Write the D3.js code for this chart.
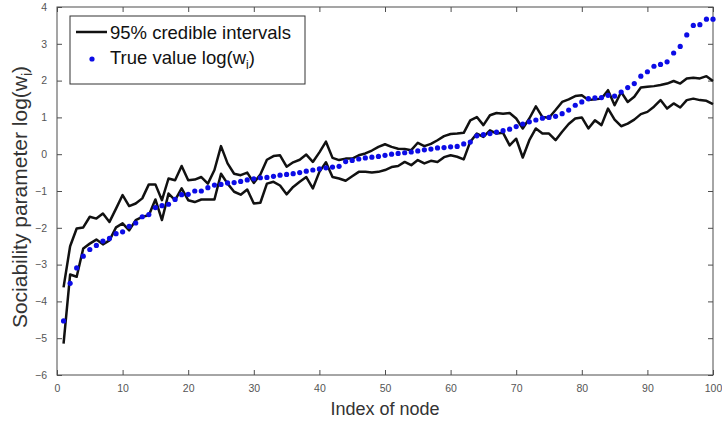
<!DOCTYPE html>
<html>
<head>
<meta charset="utf-8">
<script src="https://cdn.jsdelivr.net/npm/d3@7"></script>
<style>
  body { margin: 0; background: #fff; }
  svg { font-family: "Liberation Sans", Arial, sans-serif; }
</style>
</head>
<body>
<div id="chart"></div>
<script>
// node index 1..100
const nodeIndex = d3.range(1, 101);

const trueValue = [
  -4.53, -3.51, -3.09, -2.77, -2.59, -2.48, -2.36, -2.29, -2.16, -2.11,
  -1.96, -1.87, -1.70, -1.64, -1.45, -1.40, -1.36, -1.23, -1.10, -1.09,
  -1.00, -1.00, -0.91, -0.84, -0.82, -0.78, -0.77, -0.74, -0.70, -0.67,
  -0.64, -0.63, -0.60, -0.57, -0.55, -0.53, -0.50, -0.46, -0.43, -0.40,
  -0.37, -0.35, -0.33, -0.20, -0.17, -0.13, -0.10, -0.08, -0.06, -0.03,
   0.00,  0.02,  0.04,  0.06,  0.09,  0.12,  0.14,  0.17,  0.18,  0.20,
   0.21,  0.28,  0.33,  0.50,  0.53,  0.56,  0.60,  0.64,  0.68,  0.75,
   0.82,  0.88,  0.93,  0.98,  1.00,  1.03,  1.10,  1.20,  1.33,  1.42,
   1.51,  1.53,  1.54,  1.60,  1.58,  1.69,  1.81,  1.92,  2.12,  2.24,
   2.39,  2.44,  2.51,  2.75,  2.93,  3.24,  3.50,  3.52,  3.67,  3.67
];

const upperCI = [
  -3.62, -2.50, -2.02, -1.99, -1.70, -1.75, -1.61, -1.84, -1.48, -1.11,
  -1.41, -1.34, -1.20, -0.82, -0.82, -1.25, -0.66, -0.71, -0.32, -0.71,
  -0.69, -0.62, -0.80, -0.43,  0.22, -0.25, -0.53, -0.57, -0.50, -0.78,
  -0.55, -0.15, -0.05, -0.03, -0.34, -0.22, -0.15, -0.01, -0.21,  0.05,
   0.34, -0.10, -0.16, -0.12, -0.12, -0.03,  0.02,  0.10,  0.20,  0.27,
   0.20,  0.15,  0.14,  0.11,  0.31,  0.22,  0.28,  0.38,  0.49,  0.55,
   0.56,  0.58,  0.92,  1.01,  0.79,  1.06,  1.12,  1.10,  1.12,  0.97,
   0.70,  0.97,  1.30,  1.01,  0.99,  1.20,  1.42,  1.49,  1.58,  1.60,
   1.47,  1.49,  1.51,  1.74,  1.33,  1.69,  1.42,  1.56,  1.81,  1.83,
   1.85,  1.88,  1.92,  1.99,  1.92,  2.06,  2.08,  2.06,  2.12,  1.99
];

const lowerCI = [
  -5.15, -3.27, -3.33, -2.56, -2.43, -2.32, -2.45, -2.34, -1.99, -1.88,
  -2.07, -1.79, -1.70, -1.66, -1.23, -1.79, -1.07, -1.25, -0.93, -1.25,
  -1.30, -1.23, -1.23, -1.23, -0.53, -0.80, -1.02, -1.10, -0.96, -1.34,
  -1.32, -0.80, -0.75, -0.85, -1.09, -0.89, -0.75, -0.62, -0.93, -0.48,
  -0.22, -0.62, -0.66, -0.72, -0.60, -0.48, -0.48, -0.50, -0.48, -0.43,
  -0.35, -0.32, -0.21, -0.30, -0.16, -0.25, -0.18, -0.21, -0.08, -0.03,
  -0.07, -0.14,  0.34,  0.56,  0.47,  0.65,  0.56,  0.58,  0.24,  0.42,
  -0.09,  0.38,  0.70,  0.56,  0.56,  0.38,  0.61,  0.82,  0.97,  1.00,
   0.70,  0.92,  0.79,  1.24,  0.94,  0.76,  0.83,  0.94,  1.09,  1.15,
   1.29,  1.47,  1.24,  1.38,  1.27,  1.47,  1.51,  1.47,  1.45,  1.36
];

const xTicks = d3.range(0, 101, 10);
const yTicks = d3.range(-6, 5, 1);

const W = 722, H = 423;
const margin = {left: 57, right: 9, top: 7, bottom: 48};

const svg = d3.select("#chart").append("svg")
  .attr("width", W)
  .attr("height", H);

const x = d3.scaleLinear().domain([0, 100]).range([margin.left, W - margin.right]);
const y = d3.scaleLinear().domain([-6, 4]).range([H - margin.bottom, margin.top]);

const axisColor = "#4d4d4d";
const tickLen = 5;

// frame
svg.append("rect")
  .attr("x", x(0)).attr("y", y(4))
  .attr("width", x(100) - x(0)).attr("height", y(-6) - y(4))
  .attr("fill", "none").attr("stroke", axisColor).attr("stroke-width", 1);

const styleAxis = g => {
  g.select(".domain").remove();
  g.selectAll(".tick line").attr("stroke", axisColor);
  g.selectAll(".tick text").attr("fill", "#555").attr("font-size", 10.5);
};

svg.append("g")
  .attr("transform", `translate(0,${y(-6)})`)
  .call(d3.axisBottom(x).tickValues(xTicks).tickSizeInner(-tickLen).tickSizeOuter(0).tickPadding(10))
  .call(styleAxis);
svg.append("g")
  .attr("transform", `translate(0,${y(4)})`)
  .call(d3.axisTop(x).tickValues(xTicks).tickSizeInner(-tickLen).tickSizeOuter(0).tickFormat(""))
  .call(styleAxis);
svg.append("g")
  .attr("transform", `translate(${x(0)},0)`)
  .call(d3.axisLeft(y).tickValues(yTicks).tickSizeInner(-tickLen).tickSizeOuter(0).tickPadding(10))
  .call(styleAxis);
svg.append("g")
  .attr("transform", `translate(${x(100)},0)`)
  .call(d3.axisRight(y).tickValues(yTicks).tickSizeInner(-tickLen).tickSizeOuter(0).tickFormat(""))
  .call(styleAxis);

// credible interval lines
const line = d3.line().x((d, i) => x(nodeIndex[i])).y(d => y(d));
[upperCI, lowerCI].forEach(s => {
  svg.append("path")
    .datum(s)
    .attr("d", line)
    .attr("fill", "none")
    .attr("stroke", "#111")
    .attr("stroke-width", 2.5)
    .attr("stroke-linejoin", "round");
});

// true values
svg.append("g").selectAll("circle")
  .data(trueValue)
  .join("circle")
  .attr("cx", (d, i) => x(nodeIndex[i]))
  .attr("cy", d => y(d))
  .attr("r", 2.6)
  .attr("fill", "#0c0ce6");

// axis labels
svg.append("text")
  .attr("x", (x(0) + x(100)) / 2)
  .attr("y", 415)
  .attr("text-anchor", "middle")
  .attr("font-size", 18)
  .attr("fill", "#333")
  .text("Index of node");

const yl = svg.append("text")
  .attr("transform", `translate(27,197) rotate(-90)`)
  .attr("text-anchor", "middle")
  .attr("font-size", 21)
  .attr("fill", "#333");
yl.append("tspan").text("Sociability parameter log(w");
yl.append("tspan").attr("font-size", 14).attr("dy", 5).text("i");
yl.append("tspan").attr("dy", -5).text(")");

// legend
const lg = svg.append("g");
lg.append("rect")
  .attr("x", 70).attr("y", 16).attr("width", 235).attr("height", 68)
  .attr("fill", "#fff").attr("stroke", "#333").attr("stroke-width", 1);
lg.append("line")
  .attr("x1", 76).attr("x2", 107).attr("y1", 32).attr("y2", 32)
  .attr("stroke", "#111").attr("stroke-width", 2.5);
lg.append("text")
  .attr("x", 110).attr("y", 38.5)
  .attr("font-size", 18.5).attr("fill", "#111")
  .text("95% credible intervals");
lg.append("circle")
  .attr("cx", 92).attr("cy", 59).attr("r", 2.6).attr("fill", "#0c0ce6");
const lt = lg.append("text")
  .attr("x", 110).attr("y", 64)
  .attr("font-size", 18.5).attr("fill", "#111");
lt.append("tspan").text("True value log(w");
lt.append("tspan").attr("font-size", 12).attr("dy", 5).text("i");
lt.append("tspan").attr("dy", -5).text(")");
</script>
</body>
</html>
